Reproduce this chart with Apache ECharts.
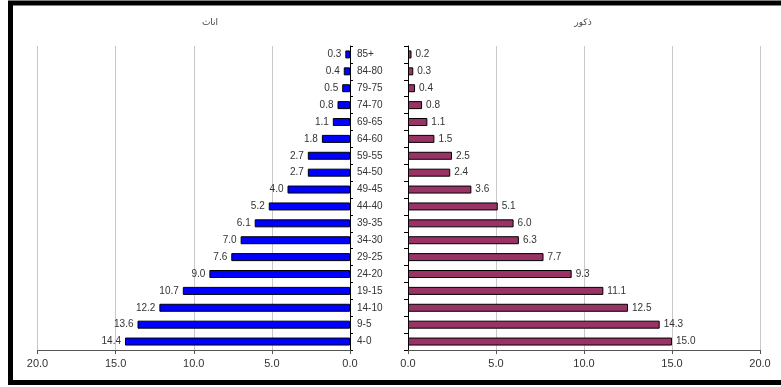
<!DOCTYPE html>
<html>
<head>
<meta charset="utf-8">
<script src="https://cdn.jsdelivr.net/npm/echarts@6/dist/echarts.min.js"></script>
<style>
  html, body { margin: 0; padding: 0; background: #fff; }
  #main { width: 781px; height: 387px; }
</style>
</head>
<body>
<div id="main"></div>
<script>
// age groups, top to bottom
const ageGroups = ['85+', '84-80', '79-75', '74-70', '69-65', '64-60', '59-55', '54-50', '49-45',
  '44-40', '39-35', '34-30', '29-25', '24-20', '19-15', '14-10', '9-5', '4-0'];
// اناث
const females = [0.3, 0.4, 0.5, 0.8, 1.1, 1.8, 2.7, 2.7, 4.0, 5.2, 6.1, 7.0, 7.6, 9.0, 10.7, 12.2, 13.6, 14.4];
// ذكور
const males = [0.2, 0.3, 0.4, 0.8, 1.1, 1.5, 2.5, 2.4, 3.6, 5.1, 6.0, 6.3, 7.7, 9.3, 11.1, 12.5, 14.3, 15.0];
const titles = ['اناث', 'ذكور'];

var myChart = echarts.init(document.getElementById('main'));
var fmt = function (v) { return Number(v).toFixed(1); };
var textCol = '#333';

var valueAxis = function (idx, inverse) {
  return {
    type: 'value', gridIndex: idx, min: 0, max: 20, interval: 5, inverse: inverse,
    axisLine: { show: true, lineStyle: { color: '#555', width: 1 } },
    axisTick: { show: true, length: 4, lineStyle: { color: '#555' } },
    axisLabel: { formatter: fmt, fontSize: 11, color: textCol, margin: 8, fontFamily: 'Liberation Sans' },
    splitLine: { show: true, lineStyle: { color: '#c8c8c8', width: 1 } }
  };
};

var option = {
  animation: false,
  graphic: [
    { type: 'rect', shape: { x: 10.5, y: 3, width: 800, height: 379.5 },
      style: { fill: 'none', stroke: '#000', lineWidth: 5 } }
  ],
  title: [
    { text: titles[0], left: 205, top: 13, textAlign: 'center',
      textStyle: { fontSize: 9, fontWeight: 'normal', color: '#444', fontFamily: 'DejaVu Sans' } },
    { text: titles[1], left: 578, top: 13, textAlign: 'center',
      textStyle: { fontSize: 9, fontWeight: 'normal', color: '#444', fontFamily: 'DejaVu Sans' } }
  ],
  grid: [
    { left: 37.5, right: 431, top: 46, bottom: 37 },
    { left: 408, right: 21, top: 46, bottom: 37 }
  ],
  xAxis: [valueAxis(0, true), valueAxis(1, false)],
  yAxis: [
    {
      type: 'category', gridIndex: 0, data: ageGroups, inverse: true, position: 'right',
      axisLine: { show: true, lineStyle: { color: '#000' } },
      axisTick: { show: true, length: 3, lineStyle: { color: '#000' } },
      axisLabel: { fontSize: 10, color: textCol, margin: 7, align: 'left', fontFamily: 'Liberation Sans' }
    },
    {
      type: 'category', gridIndex: 1, data: ageGroups, inverse: true, position: 'left',
      axisLine: { show: true, lineStyle: { color: '#000' } },
      axisTick: { show: true, length: 4, lineStyle: { color: '#000' } },
      axisLabel: { show: false }
    }
  ],
  series: [
    {
      name: titles[0], type: 'bar', xAxisIndex: 0, yAxisIndex: 0, data: females, barWidth: 8,
      itemStyle: { color: '#0000ff', borderColor: '#000', borderWidth: 1 },
      label: { show: true, position: 'left', distance: 4, formatter: function (p) { return fmt(p.value); },
        fontSize: 10, color: textCol, fontFamily: 'Liberation Sans' }
    },
    {
      name: titles[1], type: 'bar', xAxisIndex: 1, yAxisIndex: 1, data: males, barWidth: 8,
      itemStyle: { color: '#993366', borderColor: '#000', borderWidth: 1 },
      label: { show: true, position: 'right', distance: 4, formatter: function (p) { return fmt(p.value); },
        fontSize: 10, color: textCol, fontFamily: 'Liberation Sans' }
    }
  ]
};
myChart.setOption(option);
</script>
</body>
</html>
